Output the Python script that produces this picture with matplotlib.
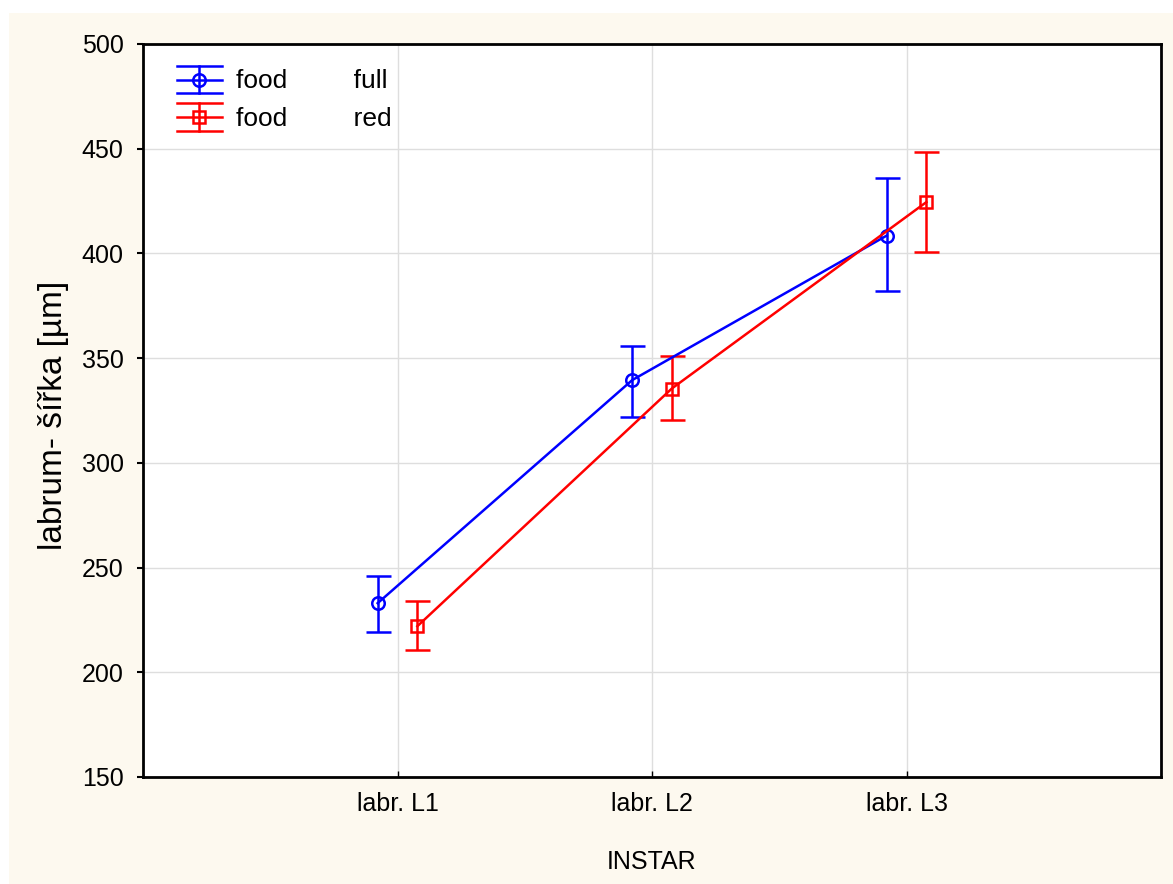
import matplotlib
matplotlib.use("Agg")
import matplotlib.pyplot as plt
from matplotlib.patches import Rectangle
from matplotlib.lines import Line2D
from matplotlib.legend_handler import HandlerBase

plt.rcParams['font.family'] = ['Liberation Sans', 'DejaVu Sans']

# Data: mean labrum width per instar with error-bar limits
instars = ["labr. L1", "labr. L2", "labr. L3"]
full_mean = [233.0, 339.5, 408.5]
full_low = [219.0, 322.0, 382.0]
full_high = [246.0, 356.0, 436.0]
red_mean = [222.0, 335.5, 424.5]
red_low = [210.5, 320.5, 400.5]
red_high = [234.0, 351.0, 448.5]
series_labels = ["food         full", "food         red"]
yticks = [150, 200, 250, 300, 350, 400, 450, 500]

BLUE = "#0000ff"
RED = "#ff0000"
LW = 1.8

fig = plt.figure(figsize=(11.73, 8.84), dpi=100, facecolor="white")
fig.patches.append(Rectangle((9 / 1173, 0), 1 - 9 / 1173, 1 - 13 / 884,
                             transform=fig.transFigure, facecolor="#fdf9ef",
                             edgecolor="none", zorder=-10))

ax = fig.add_axes([143 / 1173, 1 - 777 / 884, (1161 - 143) / 1173, (777 - 44) / 884])
ax.set_zorder(1)
ax.set_facecolor("white")

xpos = list(range(1, len(instars) + 1))
off = 0.078


def draw_series(means, lows, highs, dx, color, marker, ms):
    xs = [x + dx for x in xpos]
    yerr = [[m - lo for m, lo in zip(means, lows)], [hi - m for m, hi in zip(means, highs)]]
    ax.errorbar(xs, means, yerr=yerr, color=color, lw=LW, elinewidth=LW,
                capsize=9, capthick=LW, marker=marker, ms=ms, mfc="none",
                mec=color, mew=LW, zorder=3)


draw_series(full_mean, full_low, full_high, -off, BLUE, "o", 9)
draw_series(red_mean, red_low, red_high, off, RED, "s", 8)

ax.set_xlim(0, 4)
ax.set_ylim(150, 500)
ax.set_xticks(xpos)
ax.set_xticklabels(instars)
ax.set_yticks(yticks)
ax.grid(True, color="#dedede", lw=1, zorder=0)
ax.set_axisbelow(True)
for s in ax.spines.values():
    s.set_linewidth(2)
    s.set_color("black")
ax.tick_params(axis="y", direction="out", length=4, width=1.5, pad=10, labelsize=18)
ax.tick_params(axis="x", direction="in", length=4, width=1, pad=11, labelsize=18)
ax.set_ylabel("labrum- šířka [µm]", fontsize=24)
ax.yaxis.set_label_coords(-0.073, 0.494)
ax.set_xlabel("INSTAR", fontsize=18, labelpad=24)


class ErrHandle:
    def __init__(self, color, marker, ms):
        self.color = color
        self.marker = marker
        self.ms = ms


class ErrHandler(HandlerBase):
    def create_artists(self, legend, orig_handle, xdescent, ydescent, width,
                       height, fontsize, trans):
        c = orig_handle.color
        cy = height / 2 - ydescent
        x0, x1 = -xdescent, -xdescent + width
        xm = (x0 + x1) / 2
        h = 10
        arts = []
        for y in (cy - h, cy, cy + h):
            arts.append(Line2D([x0, x1], [y, y], color=c, lw=LW, transform=trans))
        arts.append(Line2D([xm, xm], [cy - h, cy + h], color=c, lw=LW, transform=trans))
        arts.append(Line2D([xm], [cy], marker=orig_handle.marker, ms=orig_handle.ms,
                           mfc="none", mec=c, mew=LW, transform=trans))
        return arts


handles = [ErrHandle(BLUE, "o", 9), ErrHandle(RED, "s", 8)]
ax.legend(handles, series_labels, handler_map={ErrHandle: ErrHandler()},
          loc="upper left", bbox_to_anchor=(177 / 1173, 1 - 66 / 884),
          bbox_transform=fig.transFigure, frameon=False, fontsize=19,
          handlelength=1.7, handleheight=1.2, labelspacing=0.38,
          handletextpad=0.53, borderpad=0, borderaxespad=0)

fig.savefig("out.png", dpi=100, facecolor=fig.get_facecolor())
